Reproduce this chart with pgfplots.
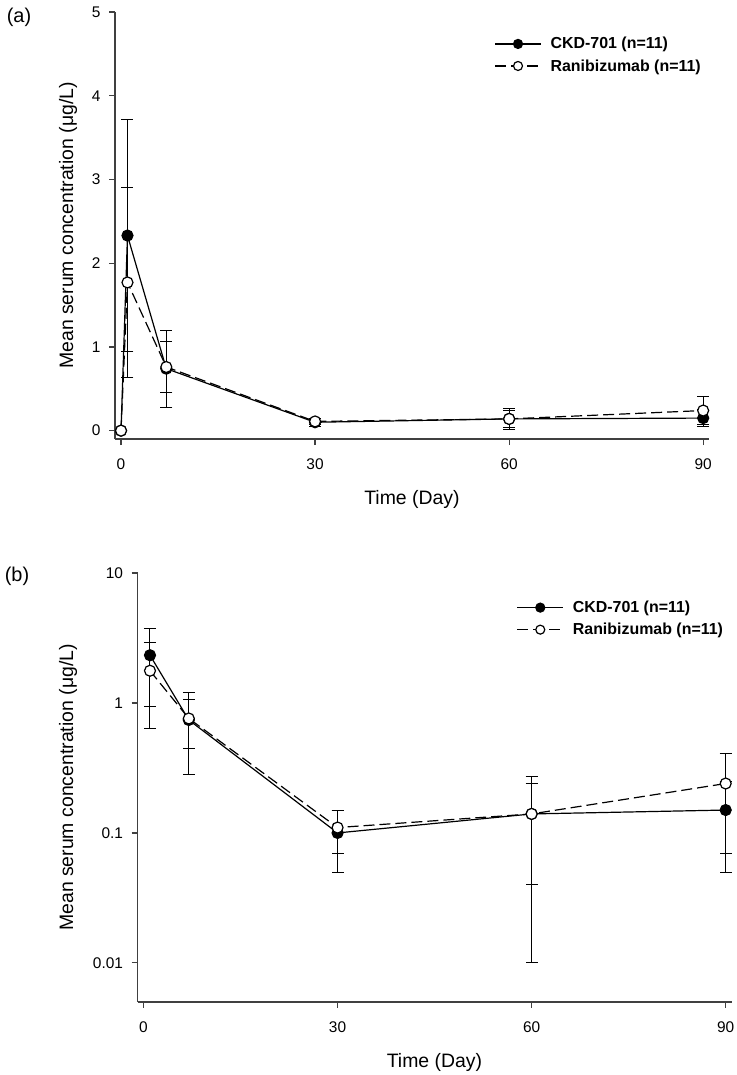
\documentclass[border=0pt]{standalone}
\usepackage{fontspec}
\setmainfont{Liberation Sans}
\usepackage{pgfplots}
\usepackage{pgfplotstable}
\pgfplotsset{compat=1.18}

% mean and SD, day 0 included (linear panel only)
\pgfplotstableread{
t m sd
0 0 0
1 2.33 1.39
7 0.74 0.46
30 0.10 0.05
60 0.14 0.13
90 0.15 0.10
}\ckd
\pgfplotstableread{
t m sd
0 0 0
1 1.77 1.13
7 0.76 0.31
30 0.11 0.04
60 0.14 0.10
90 0.24 0.17
}\rani

\pgfplotsset{
  pk/.style={
    scale only axis, width=594bp,
    axis lines=left, axis line style={-, line width=1.4bp, black!75},
    tick align=outside, major tick length=6bp,
    tick style={line width=1.2bp, black!75},
    xmin=-0.93, xmax=90.9, xtick={0,30,60,90},
    tick label style={font=\fontsize{15.5}{18}\selectfont},
    xticklabel style={yshift=-10bp},
    yticklabel style={xshift=-5bp},
    label style={font=\fontsize{19.5}{22}\selectfont},
    /pgf/number format/assume math mode=true,
    xlabel={Time (Day)},
    ylabel={Mean serum concentration (μg/L)},
    legend cell align=left,
    % 46bp line sample, a little extra room before the text
    legend image code/.code={
      \draw[mark repeat=2,mark phase=2,mark size=4.5bp]
        plot coordinates {(0bp,0bp) (23bp,0bp) (46bp,0bp)};
      \path (52bp,0bp);},
    legend style={draw=none, fill=none, inner sep=0pt, row sep=3bp,
      font=\bfseries\fontsize{16}{18}\selectfont,
      nodes={inner sep=3bp}, anchor=north west},
    clip=false,
  },
  ebar/.style={error bars/.cd, y dir=both, y explicit,
    error bar style={solid, black, line width=1bp},
    error mark options={rotate=90, solid, black, line width=1bp, mark size=6bp}},
  sckd/.style={black, line width=1.2bp, mark=*, mark size=5.5bp,
    mark options={solid, fill=black}, ebar},
  srani/.style={black, line width=1.2bp, dash pattern=on 11bp off 5bp,
    mark=*, mark size=5.5bp, mark options={solid, fill=white}, ebar},
}

\begin{document}
\begin{tikzpicture}
\path[use as bounding box] (0,0) rectangle (737bp,-1075bp);

\begin{axis}[pk, at={(115bp,-439bp)}, anchor=south west,
  height=427bp, ymin=-0.1, ymax=5, ytick={0,1,2,3,4,5},
  xlabel style={at={(axis description cs:0.5,-0.1405)}, anchor=center},
  ylabel style={at={(axis description cs:-0.079,0.5)}, anchor=center},
  legend style={at={(0.6384,0.948)}}]
\addplot[sckd] table[x=t, y=m, y error=sd] {\ckd};
\addplot[srani] table[x=t, y=m, y error=sd] {\rani};
\legend{CKD-701 (n=11), Ranibizumab (n=11)}
\end{axis}

\begin{axis}[pk, at={(137.5bp,-1002bp)}, anchor=south west,
  height=429bp, ymode=log, ymin=0.005, ymax=10,
  ytick={0.01,0.1,1,10}, yticklabels={0.01,0.1,1,10}, yminorticks=false,
  xlabel style={at={(axis description cs:0.5,-0.14)}, anchor=center},
  ylabel style={at={(axis description cs:-0.117,0.5)}, anchor=center},
  legend style={at={(0.638,0.942)}}]
\addplot[skip coords between index={0}{1}, sckd] table[x=t, y=m, y error=sd] {\ckd};
\addplot[skip coords between index={0}{1}, srani] table[x=t, y=m, y error=sd] {\rani};
\legend{CKD-701 (n=11), Ranibizumab (n=11)}
\end{axis}

\node[font=\fontsize{20}{24}\selectfont] at (19bp,-17bp) {(a)};
\node[font=\fontsize{20}{24}\selectfont] at (17bp,-576bp) {(b)};
\end{tikzpicture}
\end{document}
